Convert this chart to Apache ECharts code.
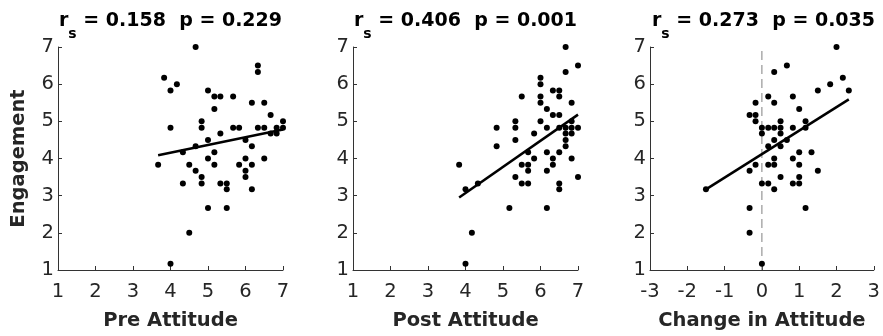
<!DOCTYPE html>
<html>
<head>
<meta charset="utf-8">
<script src="https://cdn.jsdelivr.net/npm/echarts@6/dist/echarts.min.js"></script>
<style>
  html, body { margin: 0; padding: 0; background: #fff; }
  #chart { width: 883px; height: 336px; }
</style>
</head>
<body>
<div id="chart"></div>
<script>
// values (attitude & engagement on a 1/6 step scale)
const preX = [3.67, 3.83, 4.0, 4.17, 4.0, 4.0, 4.67, 4.67, 4.33, 4.33, 4.5, 4.5, 4.67, 4.83, 4.83, 4.83, 4.83,
    5.0, 5.0, 5.0, 5.0, 5.17, 5.17, 5.17, 5.17, 5.33, 5.33, 5.33, 5.5, 5.5, 5.5, 5.67, 5.67, 5.83, 5.83,
    6.0, 6.0, 6.0, 6.0, 6.17, 6.17, 6.17, 6.17, 6.33, 6.33, 6.33, 6.5, 6.5, 6.5, 6.67, 6.67, 6.83, 6.83, 7.0, 7.0];
const preY = [3.83, 6.17, 5.83, 6.0, 4.83, 1.17, 7.0, 4.33, 4.17, 3.33, 3.83, 2.0, 3.67, 5.0, 4.83, 3.5, 3.33,
    5.83, 4.5, 4.0, 2.67, 5.67, 5.33, 4.17, 3.83, 5.67, 4.67, 3.33, 3.33, 3.17, 2.67, 5.67, 4.83, 4.83, 3.83,
    4.5, 4.0, 3.67, 3.5, 5.5, 4.33, 3.83, 3.17, 6.5, 6.33, 4.83, 5.5, 4.83, 4.0, 5.17, 4.67, 4.83, 4.67, 5.0, 4.83];

const postX = [3.83, 4.0, 4.0, 4.17, 4.33, 4.83, 4.83, 5.17, 5.33, 5.33, 5.33, 5.33, 5.5, 5.5, 5.5,
    5.67, 5.67, 5.67, 5.67, 5.83, 5.83, 6.0, 6.0, 6.0, 6.0, 6.0, 6.17, 6.17, 6.17, 6.17, 6.17,
    6.33, 6.33, 6.33, 6.33, 6.5, 6.5, 6.5, 6.5, 6.5, 6.5, 6.5, 6.67, 6.67, 6.67, 6.67, 6.67, 6.67,
    6.83, 6.83, 6.83, 6.83, 6.83, 7.0, 7.0, 7.0];
const postY = [3.83, 3.17, 1.17, 2.0, 3.33, 4.83, 4.33, 2.67, 5.0, 4.83, 4.5, 3.5, 5.67, 3.83, 3.33,
    4.17, 3.83, 3.67, 3.33, 4.67, 4.0, 6.17, 6.0, 5.67, 5.5, 5.0, 5.33, 4.83, 4.17, 3.67, 2.67,
    5.83, 5.17, 4.0, 3.83, 5.83, 5.67, 5.17, 4.83, 4.17, 3.33, 3.17, 7.0, 6.33, 4.83, 4.67, 4.5, 4.33,
    5.5, 5.0, 4.83, 4.67, 4.0, 6.5, 4.83, 3.5];

const changeX = [-1.5, -0.33, -0.17, -0.17, -0.17, -0.33, -0.17, -0.33, -0.33, 0, 0, 0, 0,
    0.17, 0.17, 0.17, 0.17, 0.17, 0.33, 0.33, 0.33, 0.33, 0.33, 0.33, 0.33,
    0.5, 0.5, 0.5, 0.5, 0.5, 0.67, 0.67, 0.83, 0.83, 0.83, 0.83,
    1.0, 1.0, 1.0, 1.0, 1.0, 1.17, 1.17, 1.17, 1.33, 1.5, 1.5, 1.83, 2.0, 2.17, 2.33];
const changeY = [3.17, 5.17, 5.5, 5.17, 5.0, 3.67, 3.83, 2.67, 2.0, 4.83, 4.67, 3.33, 1.17,
    5.67, 4.83, 4.33, 3.83, 3.33, 6.33, 5.5, 4.83, 4.5, 4.0, 3.83, 3.17,
    5.0, 4.83, 4.67, 4.33, 3.5, 4.5, 6.5, 5.67, 4.83, 4.0, 3.33,
    5.33, 4.17, 3.83, 3.5, 3.33, 5.0, 4.83, 2.67, 4.17, 5.83, 3.67, 6.0, 7.0, 6.17, 5.83];

// fitted lines (end points)
const preFitX = [3.67, 7.0];
const preFitY = [4.09, 4.78];
const postFitX = [3.83, 7.0];
const postFitY = [2.95, 5.18];
const changeFitX = [-1.5, 2.33];
const changeFitY = [3.17, 5.59];
const zeroLineX = [0, 0];
const zeroLineY = [1, 7];

const titles = [
    ['0.158', '0.229'],
    ['0.406', '0.001'],
    ['0.273', '0.035']
];
const xNames = ['Pre Attitude', 'Post Attitude', 'Change in Attitude'];
const yName = 'Engagement';

const pairs = (xs, ys) => xs.map((x, i) => [x, ys[i]]);

const FONT = 'DejaVu Sans';
const TXT = '#262626';

const grids = [
    { left: 58, top: 47, width: 225, height: 223 },
    { left: 353, top: 47, width: 225, height: 223 },
    { left: 650, top: 47, width: 227, height: 223 }
];

const chart = echarts.init(document.getElementById('chart'), null, { renderer: 'canvas' });

const makeX = (i, min, max) => ({
    type: 'value',
    gridIndex: i,
    min: min,
    max: max,
    interval: 1,
    name: xNames[i],
    nameLocation: 'middle',
    nameGap: 41,
    nameTextStyle: { fontFamily: FONT, fontWeight: 'bold', fontSize: 19.5, color: TXT },
    axisLine: { onZero: false, lineStyle: { color: '#333', width: 1 } },
    axisTick: { inside: true, length: 4, lineStyle: { color: '#333' } },
    axisLabel: { margin: 12, fontFamily: FONT, fontSize: 19.5, color: TXT },
    splitLine: { show: false }
});

const makeY = (i) => ({
    type: 'value',
    gridIndex: i,
    min: 1,
    max: 7,
    interval: 1,
    name: i === 0 ? yName : '',
    nameLocation: 'middle',
    nameGap: 29,
    nameTextStyle: { fontFamily: FONT, fontWeight: 'bold', fontSize: 19.5, color: TXT },
    axisLine: { show: true, onZero: false, lineStyle: { color: '#333', width: 1 } },
    axisTick: { show: true, inside: true, length: 4, lineStyle: { color: '#333' } },
    axisLabel: { margin: 4, fontFamily: FONT, fontSize: 19.5, color: TXT },
    splitLine: { show: false }
});

const makeTitle = (i) => ({
    text: '{r|r}{s|s}{r| = ' + titles[i][0] + '  p = ' + titles[i][1] + '}',
    left: grids[i].left + grids[i].width / 2,
    top: 12,
    padding: 0,
    textAlign: 'center',
    textStyle: {
        rich: {
            r: { fontFamily: FONT, fontWeight: 'bold', fontSize: 19, color: '#000', lineHeight: 22, verticalAlign: 'top' },
            s: { fontFamily: FONT, fontWeight: 'bold', fontSize: 14, color: '#000', lineHeight: 44 }
        }
    }
});

const scatter = (i, xs, ys) => ({
    type: 'scatter',
    xAxisIndex: i,
    yAxisIndex: i,
    data: pairs(xs, ys),
    symbol: 'circle',
    symbolSize: 6,
    itemStyle: { color: '#000', opacity: 1 },
    z: 3
});

const fit = (i, xs, ys) => ({
    type: 'line',
    xAxisIndex: i,
    yAxisIndex: i,
    data: pairs(xs, ys),
    showSymbol: false,
    lineStyle: { color: '#000', width: 2.5 },
    z: 4
});

const option = {
    animation: false,
    backgroundColor: '#fff',
    title: [makeTitle(0), makeTitle(1), makeTitle(2)],
    grid: grids,
    xAxis: [makeX(0, 1, 7), makeX(1, 1, 7), makeX(2, -3, 3)],
    yAxis: [makeY(0), makeY(1), makeY(2)],
    series: [
        {
            type: 'line',
            xAxisIndex: 2,
            yAxisIndex: 2,
            data: pairs(zeroLineX, zeroLineY),
            showSymbol: false,
            lineStyle: { color: '#808080', width: 1, type: [9, 5] },
            z: 2
        },
        scatter(0, preX, preY),
        fit(0, preFitX, preFitY),
        scatter(1, postX, postY),
        fit(1, postFitX, postFitY),
        scatter(2, changeX, changeY),
        fit(2, changeFitX, changeFitY)
    ]
};

chart.setOption(option);
</script>
</body>
</html>
